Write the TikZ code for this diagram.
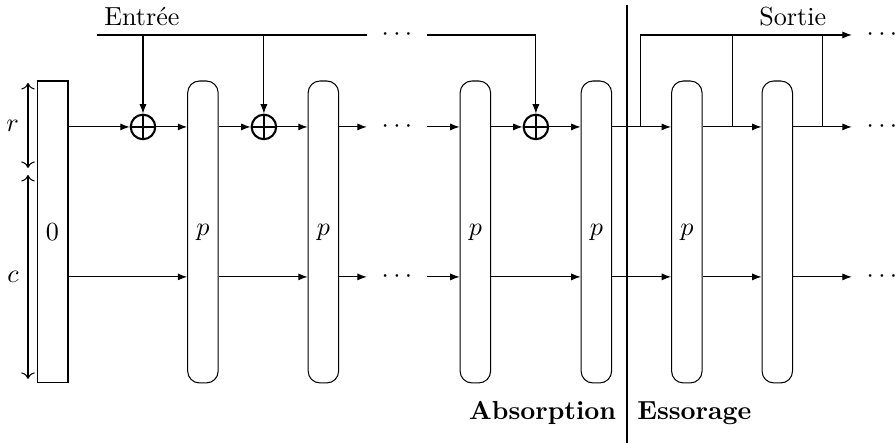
\documentclass[tikz,border=0pt]{standalone}
\usepackage{tikz}
\usetikzlibrary{arrows.meta,positioning,calc}

\begin{document}
\begin{tikzpicture}[flow/.style={-{Latex[length=3.6pt]}},perm/.style={draw,rounded corners=4.5pt,minimum width=0.41cm,minimum height=4.065cm,inner sep=0pt},xor/.style={draw,circle,thick,minimum size=0.33cm,inner sep=0pt,path picture={\draw[thick] (path picture bounding box.north) -- (path picture bounding box.south) (path picture bounding box.west) -- (path picture bounding box.east);}},dots/.style={inner sep=5.5pt}]
\useasboundingbox (0,0) rectangle (12.05,5.976);
\node[draw,minimum width=0.417cm,minimum height=4.065cm,inner sep=0pt] (state) at (0.707,2.853) {$0$};
\node[perm] (perm1) at (2.732,2.853) {$p$};
\node[perm] (perm2) at (4.354,2.853) {$p$};
\node[perm] (perm3) at (6.400,2.853) {$p$};
\node[perm] (perm4) at (8.029,2.853) {$p$};
\node[perm] (perm5) at (9.247,2.853) {$p$};
\node[perm] (perm6) at (10.465,2.853) {};
\node[xor] (xor1) at (1.925,4.267) {};
\node[xor] (xor2) at (3.553,4.267) {};
\node[xor] (xor3) at (7.215,4.267) {};
\node[dots] (dotsin) at (5.344,5.505) {$\cdots$};
\node[dots] (dotsr) at (5.344,4.267) {$\cdots$};
\node[dots] (dotsc) at (5.344,2.248) {$\cdots$};
\node[dots] (dotsout) at (11.874,5.505) {$\cdots$};
\node[dots] (dotsrout) at (11.874,4.267) {$\cdots$};
\node[dots] (dotscout) at (11.874,2.248) {$\cdots$};
\node[anchor=base] (entree) at (1.911,5.626) {Entrée};
\node[anchor=base] (sortie) at (10.674,5.626) {Sortie};
\node[anchor=base east] (absorb) at (8.42,0.323) {\textbf{Absorption}};
\node[anchor=base west] (essor) at (8.456,0.323) {\textbf{Essorage}};
\coordinate (in) at (1.306,5.505);
\coordinate (tap1) at (8.628,4.267);
\coordinate (tap2) at (9.866,4.267);
\coordinate (tap3) at (11.077,4.267);
\coordinate (septop) at (8.439,5.909);
\coordinate (sepbot) at (8.439,0.013);
\coordinate (rtop) at (0.377,4.859);
\coordinate (rbot) at (0.377,3.715);
\coordinate (ctop) at (0.377,3.620);
\coordinate (cbot) at (0.377,0.875);
% sizes of the state
\draw[<->] (rtop) -- (rbot) node[midway,left] (rlabel) {$r$};
\draw[<->] (ctop) -- (cbot) node[midway,left] (clabel) {$c$};
% input
\draw (in) -- (dotsin);
\draw[flow] (dotsin) -| (xor3);
\draw[flow] (xor1 |- in) -- (xor1);
\draw[flow] (xor2 |- in) -- (xor2);
% rate part
\draw[flow] (state.east |- xor1) -- (xor1);
\draw[flow] (xor1) -- (xor1 -| perm1.west);
\draw[flow] (perm1.east |- xor2) -- (xor2);
\draw[flow] (xor2) -- (xor2 -| perm2.west);
\draw[flow] (perm2.east |- dotsr) -- (dotsr);
\draw[flow] (dotsr) -- (dotsr -| perm3.west);
\draw[flow] (perm3.east |- xor3) -- (xor3);
\draw[flow] (xor3) -- (xor3 -| perm4.west);
\draw[flow] (perm4.east |- xor3) -- (xor3 -| perm5.west);
\draw[flow] (perm5.east |- xor3) -- (xor3 -| perm6.west);
\draw[flow] (perm6.east |- dotsrout) -- (dotsrout);
% capacity part
\foreach \a/\b in {state/perm1,perm1/perm2,perm2/dotsc,dotsc/perm3,perm3/perm4,perm4/perm5,perm5/perm6,perm6/dotscout}
  \draw[flow] (\a.east |- dotsc) -- (\b.west |- dotsc);
% output
\draw[flow] (tap1) |- (dotsout);
\draw (tap2) -- (tap2 |- dotsout);
\draw (tap3) -- (tap3 |- dotsout);
\draw[thick] (septop) -- (sepbot);
\end{tikzpicture}
\end{document}
